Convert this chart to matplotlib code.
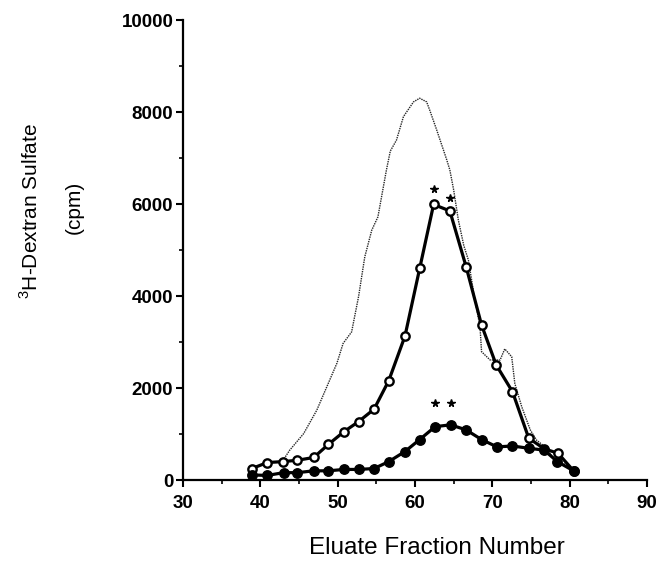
import matplotlib
matplotlib.use("Agg")
import matplotlib.pyplot as plt
from matplotlib.ticker import MultipleLocator

plt.rcParams['font.family'] = ['Liberation Sans', 'DejaVu Sans']
plt.rcParams['mathtext.fontset'] = 'custom'
plt.rcParams['mathtext.rm'] = 'Liberation Sans'

# Open-circle series
open_x = [38.9, 40.9, 42.9, 44.8, 46.9, 48.8, 50.8, 52.7, 54.7, 56.6, 58.7, 60.6,
          62.4, 64.5, 66.6, 68.6, 70.5, 72.6, 74.7, 76.7, 78.5, 80.5]
open_y = [250, 380, 400, 430, 490, 775, 1050, 1270, 1540, 2160, 3130, 4600,
          5990, 5850, 4640, 3370, 2500, 1920, 910, 680, 580, 200]

# Filled-circle series
fill_x = [38.9, 40.9, 43.0, 44.8, 46.9, 48.8, 50.8, 52.7, 54.7, 56.6, 58.7, 60.6,
          62.6, 64.6, 66.6, 68.6, 70.6, 72.6, 74.7, 76.7, 78.4, 80.5]
fill_y = [110, 100, 160, 160, 200, 200, 230, 230, 250, 400, 620, 880,
          1160, 1200, 1090, 880, 720, 740, 690, 650, 400, 200]

# Thin dotted profile
dot_x = [42.9, 43.8, 45.6, 47.3, 48.6, 49.9, 50.7, 51.8, 52.7, 53.5, 54.4, 55.2,
         56.3, 56.8, 57.6, 58.5, 59.8, 60.6, 61.5, 61.9, 62.8, 64.1, 64.5, 65.0,
         65.6, 66.3, 66.9, 67.6, 68.4, 68.6, 69.7, 71.0, 71.6, 72.5, 72.9, 73.8,
         74.9, 75.7, 76.8, 78.3, 79.6, 80.5]
dot_y = [420, 650, 1010, 1520, 2030, 2540, 2970, 3220, 3990, 4850, 5430, 5720,
         6740, 7150, 7390, 7900, 8220, 8300, 8220, 8040, 7610, 6960, 6740, 6300,
         5650, 5100, 4780, 4050, 3330, 2790, 2610, 2610, 2850, 2680, 2100, 1590,
         1090, 870, 720, 400, 330, 200]

# Significance stars
star_x = [62.4, 64.5, 62.6, 64.6]
star_y = [6330, 6120, 1670, 1670]

x_ticks = [30, 40, 50, 60, 70, 80, 90]
y_ticks = [0, 2000, 4000, 6000, 8000, 10000]

fig = plt.figure(figsize=(6.67, 5.67), dpi=100)
ax = fig.add_axes([0.2744, 0.1534, 0.6957, 0.8113])

ax.plot(dot_x, dot_y, color='0.15', lw=1.0, linestyle=(0, (1, 0.7)), zorder=2)
ax.plot(open_x, open_y, color='black', lw=2.3, marker='o', markersize=6,
        markerfacecolor='white', markeredgecolor='black', markeredgewidth=1.7, zorder=3)
ax.plot(fill_x, fill_y, color='black', lw=2.3, marker='o', markersize=6.8,
        markerfacecolor='black', markeredgecolor='black', zorder=4)
ax.plot(star_x, star_y, linestyle='none', marker='*', markersize=5.5, color='black', zorder=5)

ax.set_xlim(30, 90)
ax.set_ylim(0, 10000)
ax.set_xticks(x_ticks)
ax.set_yticks(y_ticks)
ax.xaxis.set_minor_locator(MultipleLocator(5))
ax.yaxis.set_minor_locator(MultipleLocator(1000))

for s in ['top', 'right']:
    ax.spines[s].set_visible(False)
for s in ['left', 'bottom']:
    ax.spines[s].set_linewidth(1.6)

ax.tick_params(axis='both', which='major', length=5, width=1.5, direction='out',
               labelsize=13.5)
ax.tick_params(axis='both', which='minor', length=3, width=1.2, direction='out')
ax.tick_params(axis='x', which='major', pad=6)
ax.tick_params(axis='y', which='major', pad=2)
for lab in ax.get_xticklabels() + ax.get_yticklabels():
    lab.set_fontweight('bold')

fig.text(437 / 667, 1 - 548 / 567, 'Eluate Fraction Number', ha='center', va='center',
         fontsize=17.5)
fig.text(31 / 667, 1 - 211 / 567, r'$^{3}$H-Dextran Sulfate', ha='center', va='center',
         rotation=90, fontsize=15)
fig.text(74 / 667, 1 - 207 / 567, '(cpm)', ha='center', va='center',
         rotation=90, fontsize=15)

fig.savefig('out.png', dpi=100)
